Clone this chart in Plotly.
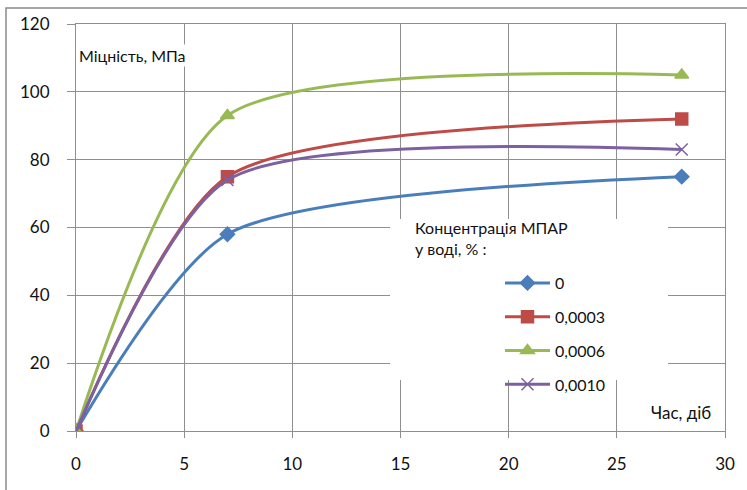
import plotly.graph_objects as go

days = [0, 7, 28]
s0 = [0, 58, 75]
s0003 = [0, 75, 92]
s0006 = [0, 93, 105]
s0010 = [0, 74, 83]

names = ["0", "0,0003", "0,0006", "0,0010"]
series = [s0, s0003, s0006, s0010]
colors = ["#4A7EBB", "#BE4B48", "#98B954", "#7D60A0"]
symbols = ["diamond", "square", "triangle-up", "x-thin-open"]
msizes = [11, 12, 12, 12]

FONT = "Lato, 'Open Sans', sans-serif"

fig = go.Figure()
for i, (n, y, c, s, ms) in enumerate(zip(names, series, colors, symbols, msizes)):
    fig.add_trace(go.Scatter(
        x=days, y=y, name=n, mode="lines+markers", legendgroup="g%d" % i,
        line=dict(color=c, width=3, shape="spline", smoothing=0.7),
        marker=dict(symbol=s, size=ms, color=c, line=dict(color=c, width=1.5)),
    ))

L, R, T, B = 76, 725, 24, 431
W, H = R - L, B - T
def xp(px): return (px - L) / W
def yp(py): return (B - py) / H

grid = "#8f8f8f"
fig.update_layout(
    width=747, height=490,
    margin=dict(l=L, r=747 - R, t=T, b=490 - B),
    paper_bgcolor="white", plot_bgcolor="white",
    font=dict(family=FONT, size=16, color="#111111"),
    showlegend=True,
    legend=dict(x=xp(500), y=yp(266), xanchor="left", yanchor="top",
                bgcolor="rgba(0,0,0,0)", font=dict(size=16, family=FONT, color="#111111"),
                itemwidth=45, tracegroupgap=10, traceorder="grouped"),
    xaxis=dict(range=[0, 30], dtick=5, showgrid=True, gridcolor=grid, gridwidth=1,
               showline=True, linecolor=grid, mirror=True, zeroline=False,
               ticks="outside", ticklen=6, tickcolor=grid,
               tickfont=dict(size=17, family=FONT, color="#111111"),
               ticklabelstandoff=12),
    yaxis=dict(range=[0, 120], dtick=20, showgrid=True, gridcolor=grid, gridwidth=1,
               showline=True, linecolor=grid, mirror=True, zeroline=False,
               ticks="outside", ticklen=8, tickcolor=grid,
               tickfont=dict(size=17, family=FONT, color="#111111"),
               ticklabelstandoff=14),
)

# outer chart frame
fig.add_shape(type="rect", xref="paper", yref="paper",
              x0=xp(6), x1=xp(760), y0=yp(500), y1=yp(8),
              line=dict(color="#8a8a8a", width=1.5), fillcolor="rgba(0,0,0,0)", layer="above")
# white background of the legend area
fig.add_shape(type="rect", xref="paper", yref="paper",
              x0=xp(390), x1=xp(668), y0=yp(380), y1=yp(219),
              line=dict(width=0), fillcolor="white", layer="above")

fig.add_annotation(text="Концентрація МПАР<br>у воді, % :", xref="paper", yref="paper",
                   x=xp(413), y=yp(216), xanchor="left", yanchor="top", showarrow=False,
                   align="left", font=dict(size=16, family=FONT, color="#111111"))
fig.add_annotation(text="Міцність, МПа", xref="paper", yref="paper",
                   x=xp(132), y=yp(55), xanchor="center", yanchor="middle", showarrow=False,
                   bgcolor="white", font=dict(size=16, family=FONT, color="#111111"))
fig.add_annotation(text="Час, діб", xref="paper", yref="paper",
                   x=xp(681), y=yp(412), xanchor="center", yanchor="middle", showarrow=False,
                   bgcolor="white", borderpad=4,
                   font=dict(size=17, family=FONT, color="#111111"))

fig.write_html("out.html")
